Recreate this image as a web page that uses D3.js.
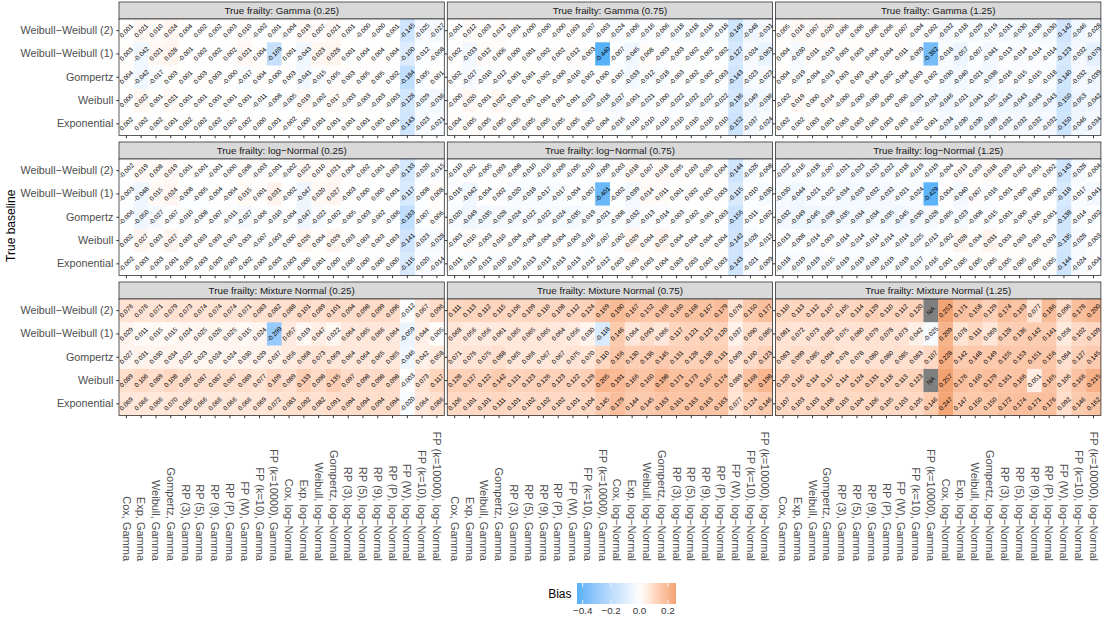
<!DOCTYPE html>
<html>
<head>
<meta charset="utf-8">
<script src="https://cdnjs.cloudflare.com/ajax/libs/d3/7.8.5/d3.min.js"></script>
<style>
  body { margin: 0; background: #fff; }
  svg { display: block; font-family: "Liberation Sans", Arial, Helvetica, sans-serif; }
</style>
</head>
<body>
<div id="chart"></div>
<script>
// fitted models (x axis)
const models = [
  "Cox, Gamma", "Exp, Gamma", "Weibull, Gamma", "Gompertz, Gamma", "RP (3), Gamma",
  "RP (5), Gamma", "RP (9), Gamma", "RP (P), Gamma", "FP (W), Gamma", "FP (k=10), Gamma",
  "FP (k=10000), Gamma", "Cox, log−Normal", "Exp, log−Normal", "Weibull, log−Normal",
  "Gompertz, log−Normal", "RP (3), log−Normal", "RP (5), log−Normal", "RP (9), log−Normal",
  "RP (P), log−Normal", "FP (W), log−Normal", "FP (k=10), log−Normal", "FP (k=10000), log−Normal"
];

// true baseline (y axis, top to bottom)
const baselines = ["Weibull−Weibull (2)", "Weibull−Weibull (1)", "Gompertz", "Weibull", "Exponential"];

// facet titles
const frailties = [
  "True frailty: Gamma (0.25)", "True frailty: Gamma (0.75)", "True frailty: Gamma (1.25)",
  "True frailty: log−Normal (0.25)", "True frailty: log−Normal (0.75)", "True frailty: log−Normal (1.25)",
  "True frailty: Mixture Normal (0.25)", "True frailty: Mixture Normal (0.75)", "True frailty: Mixture Normal (1.25)"
];

// bias, one row per baseline (same order as baselines), one value per model
const gamma025 = [
  [0.001, 0.021, 0.010, 0.024, 0.004, 0.002, 0.002, 0.003, 0.010, -0.002, 0.001, -0.004, 0.019, 0.007, 0.021, 0.001, -0.000, -0.000, 0.001, -0.145, -0.025, -0.027],
  [0.003, -0.042, 0.021, 0.028, -0.001, 0.002, 0.002, 0.002, 0.021, 0.004, -0.169, 0.001, -0.043, 0.023, 0.028, 0.001, 0.004, 0.004, 0.004, -0.100, -0.012, -0.008],
  [0.004, -0.042, -0.017, 0.003, 0.001, 0.003, 0.003, -0.000, -0.017, 0.004, -0.000, 0.003, -0.041, -0.015, 0.005, 0.003, 0.005, 0.005, 0.002, -0.184, -0.005, 0.001],
  [0.000, 0.022, 0.001, 0.021, 0.001, 0.001, 0.001, 0.001, 0.001, -0.011, -0.008, -0.005, 0.019, -0.002, 0.017, -0.003, -0.003, -0.003, -0.003, -0.128, -0.029, -0.036],
  [0.002, 0.002, 0.002, 0.001, 0.002, 0.002, 0.002, 0.002, 0.002, 0.000, 0.001, -0.002, 0.000, 0.001, 0.001, 0.001, 0.001, 0.001, 0.001, -0.143, -0.023, -0.021]
];
const gamma075 = [
  [-0.001, 0.012, 0.003, 0.012, 0.001, -0.000, -0.000, -0.000, 0.003, -0.007, -0.003, -0.024, -0.006, -0.016, -0.006, -0.018, -0.018, -0.018, -0.018, -0.149, -0.048, -0.031],
  [0.002, -0.033, 0.012, 0.006, 0.000, 0.001, 0.002, 0.002, 0.012, -0.003, -0.440, -0.007, -0.045, 0.008, -0.003, -0.003, -0.002, -0.002, -0.002, -0.127, -0.024, -0.063],
  [0.002, -0.027, -0.010, -0.012, 0.001, 0.001, 0.002, -0.000, -0.010, 0.002, 0.000, -0.007, -0.033, -0.012, -0.018, -0.003, -0.002, -0.002, -0.003, -0.143, -0.023, -0.023],
  [-0.000, 0.020, 0.001, 0.022, 0.001, 0.001, 0.001, 0.001, 0.001, -0.023, -0.018, -0.027, -0.001, -0.021, -0.000, -0.022, -0.022, -0.022, -0.022, -0.136, -0.049, -0.036],
  [0.004, 0.005, 0.005, 0.005, 0.005, 0.005, 0.005, 0.005, 0.005, 0.002, 0.004, -0.016, -0.010, -0.010, -0.010, -0.010, -0.010, -0.010, -0.010, -0.152, -0.037, -0.024]
];
const gamma125 = [
  [0.005, 0.016, 0.007, 0.020, 0.006, 0.006, 0.006, 0.006, 0.007, -0.004, 0.002, -0.032, -0.018, -0.029, -0.019, -0.031, -0.030, -0.030, -0.030, -0.142, -0.046, -0.028],
  [0.004, -0.030, 0.011, -0.013, 0.003, 0.003, 0.004, 0.004, 0.011, -0.009, -0.382, -0.018, -0.057, -0.007, -0.041, -0.013, -0.014, -0.014, -0.014, -0.123, -0.032, -0.079],
  [0.004, -0.019, -0.004, -0.013, 0.003, 0.003, 0.004, 0.002, -0.004, 0.003, 0.002, -0.030, -0.040, -0.021, -0.038, -0.016, -0.015, -0.015, -0.018, -0.140, -0.032, -0.039],
  [-0.002, 0.019, 0.000, 0.014, -0.000, -0.000, -0.000, -0.000, 0.000, -0.031, -0.024, -0.046, -0.021, -0.041, -0.025, -0.043, -0.043, -0.043, -0.043, -0.150, -0.053, -0.042],
  [0.002, 0.002, 0.003, 0.001, 0.003, 0.003, 0.003, 0.003, 0.003, -0.002, 0.001, -0.034, -0.030, -0.030, -0.039, -0.032, -0.032, -0.032, -0.032, -0.150, -0.046, -0.034]
];
const lognormal025 = [
  [-0.002, 0.019, 0.008, 0.019, 0.001, -0.001, -0.001, 0.000, 0.008, -0.003, -0.001, -0.002, 0.022, 0.010, 0.021, 0.004, 0.002, 0.001, 0.003, -0.133, -0.020, -0.015],
  [-0.003, -0.048, 0.015, 0.024, -0.008, -0.005, -0.004, -0.004, 0.015, 0.001, 0.031, -0.002, -0.047, 0.020, 0.027, -0.003, 0.000, 0.000, 0.001, -0.117, -0.008, 0.008],
  [-0.006, -0.050, -0.027, -0.007, -0.010, -0.008, -0.007, -0.011, -0.027, -0.006, -0.010, -0.004, -0.047, -0.022, -0.002, -0.005, -0.003, -0.002, -0.006, -0.183, -0.007, 0.006],
  [0.002, 0.027, 0.003, 0.027, 0.003, 0.003, 0.003, 0.003, 0.003, -0.007, -0.003, 0.000, 0.026, 0.004, 0.029, 0.003, 0.003, 0.003, 0.003, -0.141, -0.023, -0.028],
  [-0.002, -0.003, -0.003, -0.001, -0.003, -0.003, -0.003, -0.003, -0.002, -0.003, -0.003, -0.003, 0.000, 0.001, 0.000, 0.000, 0.000, 0.000, 0.000, -0.115, -0.020, -0.014]
];
const lognormal075 = [
  [-0.010, 0.002, -0.005, 0.003, -0.008, -0.010, -0.010, -0.009, -0.005, -0.010, -0.009, -0.003, 0.018, 0.007, 0.018, 0.005, 0.003, 0.003, 0.004, -0.144, -0.028, -0.008],
  [-0.016, -0.042, -0.004, 0.002, -0.020, -0.018, -0.017, -0.017, -0.004, -0.007, -0.401, -0.002, -0.039, 0.014, 0.011, 0.001, 0.002, 0.003, 0.003, -0.115, -0.010, -0.030],
  [-0.020, -0.049, -0.035, -0.028, -0.024, -0.022, -0.022, -0.024, -0.035, -0.019, -0.021, -0.008, -0.032, -0.013, -0.014, -0.003, -0.002, -0.001, -0.003, -0.156, -0.011, -0.002],
  [-0.003, 0.010, -0.003, 0.010, -0.004, -0.004, -0.004, -0.004, -0.003, -0.016, -0.007, -0.002, 0.029, 0.004, 0.029, 0.004, 0.004, 0.004, 0.004, -0.142, -0.028, -0.013],
  [-0.011, -0.013, -0.013, -0.010, -0.013, -0.013, -0.013, -0.013, -0.013, -0.012, -0.012, 0.003, 0.003, 0.003, 0.004, 0.003, 0.003, 0.003, 0.003, -0.143, -0.021, -0.009]
];
const lognormal125 = [
  [-0.022, -0.016, -0.018, -0.007, -0.021, -0.023, -0.023, -0.022, -0.018, -0.019, -0.019, -0.004, 0.013, 0.003, 0.018, 0.003, 0.002, 0.001, 0.002, -0.143, -0.028, -0.004],
  [-0.030, -0.044, -0.021, -0.022, -0.034, -0.033, -0.032, -0.032, -0.021, -0.024, -0.429, -0.004, -0.040, 0.007, -0.016, -0.001, -0.000, 0.000, -0.000, -0.118, -0.017, -0.041],
  [-0.032, -0.049, -0.045, -0.038, -0.035, -0.034, -0.034, -0.035, -0.045, -0.030, -0.028, -0.005, -0.023, -0.008, -0.015, -0.001, -0.000, 0.000, -0.001, -0.138, -0.014, -0.002],
  [-0.013, -0.008, -0.014, 0.003, -0.014, -0.014, -0.014, -0.014, -0.014, -0.025, -0.013, -0.002, 0.028, 0.004, 0.031, 0.003, 0.003, 0.003, 0.003, -0.135, -0.028, -0.003],
  [-0.018, -0.019, -0.019, -0.015, -0.019, -0.019, -0.019, -0.019, -0.019, -0.017, -0.016, 0.001, 0.005, 0.005, 0.005, 0.005, 0.005, 0.005, 0.005, -0.144, -0.024, -0.004]
];
const mixture025 = [
  [0.076, 0.076, 0.071, 0.079, 0.073, 0.074, 0.074, 0.074, 0.071, 0.083, 0.082, 0.088, 0.101, 0.089, 0.101, 0.094, 0.098, 0.099, 0.096, -0.012, 0.067, 0.096],
  [0.029, 0.011, 0.015, 0.015, 0.024, 0.025, 0.026, 0.025, 0.015, 0.024, -0.299, 0.057, 0.019, 0.047, 0.022, 0.064, 0.065, 0.066, 0.064, -0.059, 0.044, 0.005],
  [0.027, 0.031, 0.030, 0.034, 0.022, 0.023, 0.024, 0.024, 0.030, 0.029, 0.037, 0.056, 0.068, 0.073, 0.069, 0.064, 0.064, 0.065, 0.065, -0.046, 0.042, 0.058],
  [0.089, 0.106, 0.089, 0.108, 0.087, 0.087, 0.087, 0.087, 0.089, 0.077, 0.109, 0.089, 0.133, 0.098, 0.135, 0.097, 0.098, 0.098, 0.098, -0.003, 0.073, 0.117],
  [0.069, 0.066, 0.066, 0.070, 0.066, 0.066, 0.066, 0.066, 0.066, 0.069, 0.072, 0.083, 0.092, 0.082, 0.091, 0.094, 0.094, 0.094, 0.094, -0.020, 0.064, 0.086]
];
const mixture075 = [
  [0.111, 0.113, 0.112, 0.115, 0.106, 0.109, 0.110, 0.108, 0.112, 0.124, 0.169, 0.190, 0.167, 0.152, 0.166, 0.160, 0.168, 0.167, 0.179, 0.078, 0.150, 0.177],
  [0.068, 0.056, 0.056, 0.061, 0.065, 0.065, 0.065, 0.064, 0.056, 0.030, -0.118, 0.146, 0.064, 0.093, 0.066, 0.117, 0.121, 0.123, 0.120, 0.037, 0.090, 0.085],
  [0.071, 0.076, 0.075, 0.088, 0.065, 0.066, 0.067, 0.067, 0.075, 0.070, 0.110, 0.156, 0.130, 0.136, 0.145, 0.131, 0.128, 0.130, 0.131, 0.069, 0.100, 0.123],
  [0.128, 0.127, 0.122, 0.142, 0.121, 0.123, 0.126, 0.123, 0.122, 0.129, 0.205, 0.191, 0.166, 0.160, 0.198, 0.171, 0.173, 0.167, 0.174, 0.089, 0.168, 0.198],
  [0.106, 0.101, 0.101, 0.111, 0.101, 0.102, 0.102, 0.102, 0.101, 0.104, 0.145, 0.179, 0.144, 0.145, 0.163, 0.161, 0.163, 0.163, 0.163, 0.077, 0.124, 0.146]
];
const mixture125 = [
  [0.110, 0.113, 0.112, 0.107, 0.105, 0.114, 0.129, 0.110, 0.112, 0.120, null, 0.253, 0.171, 0.158, 0.129, 0.174, 0.163, 0.077, 0.186, 0.096, 0.178, 0.200],
  [0.081, 0.072, 0.073, 0.082, 0.075, 0.080, 0.079, 0.078, 0.073, 0.042, -0.025, 0.209, 0.078, 0.111, 0.069, 0.128, 0.136, 0.142, 0.141, 0.058, 0.102, 0.109],
  [0.083, 0.099, 0.085, 0.094, 0.078, 0.078, 0.080, 0.080, 0.085, 0.083, 0.107, 0.228, 0.142, 0.148, 0.149, 0.155, 0.153, 0.151, 0.156, 0.084, 0.127, 0.145],
  [0.120, 0.116, 0.114, 0.117, 0.114, 0.124, 0.131, 0.118, 0.113, 0.123, null, 0.257, 0.176, 0.160, 0.179, 0.161, 0.166, 0.051, 0.165, 0.106, 0.166, 0.215],
  [0.107, 0.103, 0.103, 0.108, 0.103, 0.104, 0.106, 0.105, 0.103, 0.105, 0.146, 0.247, 0.147, 0.150, 0.150, 0.172, 0.174, 0.171, 0.176, 0.092, 0.146, 0.162]
];

const legendTicks = [-0.4, -0.2, 0.0, 0.2];

const panelValues = [gamma025, gamma075, gamma125, lognormal025, lognormal075, lognormal125, mixture025, mixture075, mixture125];

// layout
const svgW = 1104, svgH = 620;
const leftX = 119, panelW = 325.3, panelH = 116.5, gapX = 3, gapY = 6.5, stripH = 17, topY = 2;
const xLabelBottom = 561;
const axisColor = "#4D4D4D", borderColor = "#333333";

const svg = d3.select("#chart").append("svg")
  .attr("width", svgW).attr("height", svgH);

const x = d3.scaleBand().domain(models).range([0, panelW]);
const y = d3.scaleBand().domain(baselines).range([0, panelH]);

const allValues = panelValues.flat(2).filter((v) => v !== null);
const vMin = d3.min(allValues), vMax = d3.max(allValues);
const maxAbs = Math.max(Math.abs(vMin), Math.abs(vMax));

// diverging fill like scale_fill_gradient2 (symmetric around 0)
const fill = d3.scaleLinear()
  .domain([-maxAbs, 0, maxAbs])
  .range(["#56B1F7", "#ffffff", "#D95F02"])
  .interpolate(d3.interpolateLab);

// format like sprintf("%.3f"), keeping "-0.000"
const fmt = (v) => ((v < 0 || Object.is(v, -0)) ? "-" : "") + Math.abs(v).toFixed(3);

panelValues.forEach((values, i) => {
  const col = i % 3, row = Math.floor(i / 3);
  const px = leftX + col * (panelW + gapX);
  const sy = topY + row * (stripH + panelH + gapY);
  const py = sy + stripH;

  const cells = [];
  values.forEach((r, ri) => r.forEach((v, ci) => cells.push({ model: models[ci], base: baselines[ri], value: v })));

  // strip
  svg.append("rect")
    .attr("x", px).attr("y", sy).attr("width", panelW).attr("height", stripH)
    .attr("fill", "#D9D9D9").attr("stroke", borderColor).attr("stroke-width", 0.8);
  svg.append("text")
    .attr("x", px + panelW / 2).attr("y", sy + stripH / 2)
    .attr("dy", "0.35em").attr("text-anchor", "middle")
    .attr("font-size", "9.8px").attr("fill", "#1A1A1A")
    .text(frailties[i]);

  const g = svg.append("g").attr("transform", `translate(${px},${py})`);

  // tiles
  g.selectAll(".tile")
    .data(cells)
    .enter()
    .append("rect")
    .attr("class", "tile")
    .attr("x", (d) => x(d.model))
    .attr("y", (d) => y(d.base))
    .attr("width", x.bandwidth() + 0.3)
    .attr("height", y.bandwidth() + 0.3)
    .attr("fill", (d) => (d.value === null ? "#7F7F7F" : fill(d.value)));

  // labels
  g.selectAll(".lab")
    .data(cells)
    .enter()
    .append("text")
    .attr("class", "lab")
    .attr("transform", (d) => `translate(${x(d.model) + x.bandwidth() / 2},${y(d.base) + y.bandwidth() / 2}) rotate(-45)`)
    .attr("text-anchor", "middle")
    .attr("dy", "0.35em")
    .attr("font-size", "6.4px")
    .attr("fill", "#000")
    .text((d) => (d.value === null ? "NA" : fmt(d.value)));

  // border
  g.append("rect")
    .attr("width", panelW).attr("height", panelH)
    .attr("fill", "none").attr("stroke", borderColor).attr("stroke-width", 0.8);

  // y ticks on every panel, labels on the left column only
  const yAxis = g.append("g")
    .call(d3.axisLeft(y).tickSize(2.7).tickPadding(3).tickFormat(col === 0 ? null : () => ""))
    .call((a) => a.select(".domain").remove());
  yAxis.selectAll(".tick line").attr("stroke", borderColor);
  yAxis.selectAll("text")
    .attr("font-size", "10.8px").attr("fill", axisColor)
    .attr("font-family", "Liberation Sans, Arial, sans-serif");

  // x ticks on every panel, labels on the bottom row only
  const xAxis = g.append("g")
    .attr("transform", `translate(0,${panelH})`)
    .call(d3.axisBottom(x).tickSize(2.7).tickFormat(""))
    .call((a) => a.select(".domain").remove());
  xAxis.selectAll(".tick line").attr("stroke", borderColor);

  if (row === 2) {
    g.append("g")
      .attr("class", "xlabs")
      .selectAll("text")
      .data(models)
      .enter()
      .append("text")
      .attr("font-size", "11px")
      .attr("fill", axisColor)
      .attr("text-anchor", "end")
      .attr("dy", "0.35em")
      .attr("transform", (d) => `translate(${x(d) + x.bandwidth() / 2},${xLabelBottom - py}) rotate(90)`)
      .text((d) => d);
  }
});

// y axis title
svg.append("text")
  .attr("transform", `translate(11,${topY + stripH + (3 * panelH + 2 * (stripH + gapY)) / 2 + stripH / 2}) rotate(-90)`)
  .attr("text-anchor", "middle")
  .attr("dy", "0.35em")
  .attr("font-size", "12px")
  .attr("fill", "#000")
  .text("True baseline");

// legend
const barX = 577, barW = 99, barY = 583, barH = 21;
const lx = d3.scaleLinear().domain([vMin, vMax]).range([barX, barX + barW]);

const grad = svg.append("defs").append("linearGradient").attr("id", "biasGrad");
d3.range(0, 1.0001, 0.05).forEach((f) => {
  grad.append("stop")
    .attr("offset", f)
    .attr("stop-color", fill(vMin + f * (vMax - vMin)));
});

svg.append("rect")
  .attr("x", barX).attr("y", barY).attr("width", barW).attr("height", barH)
  .attr("fill", "url(#biasGrad)");

const lg = svg.append("g");
legendTicks.forEach((t) => {
  lg.append("line")
    .attr("x1", lx(t)).attr("x2", lx(t)).attr("y1", barY).attr("y2", barY + barH / 5)
    .attr("stroke", "#fff").attr("stroke-width", 0.8);
  lg.append("line")
    .attr("x1", lx(t)).attr("x2", lx(t)).attr("y1", barY + barH).attr("y2", barY + barH - barH / 5)
    .attr("stroke", "#fff").attr("stroke-width", 0.8);
});

lg.selectAll(".ltick")
  .data(legendTicks)
  .enter()
  .append("text")
  .attr("class", "ltick")
  .attr("x", (d) => lx(d))
  .attr("y", barY + barH + 3)
  .attr("dy", "0.71em")
  .attr("text-anchor", "middle")
  .attr("font-size", "9.8px")
  .attr("fill", "#333")
  .text(d3.format(".1f"));

svg.append("text")
  .attr("x", barX - 5.5).attr("y", barY + barH / 2)
  .attr("dy", "0.35em")
  .attr("text-anchor", "end")
  .attr("font-size", "12px")
  .attr("fill", "#000")
  .text("Bias");
</script>
</body>
</html>
